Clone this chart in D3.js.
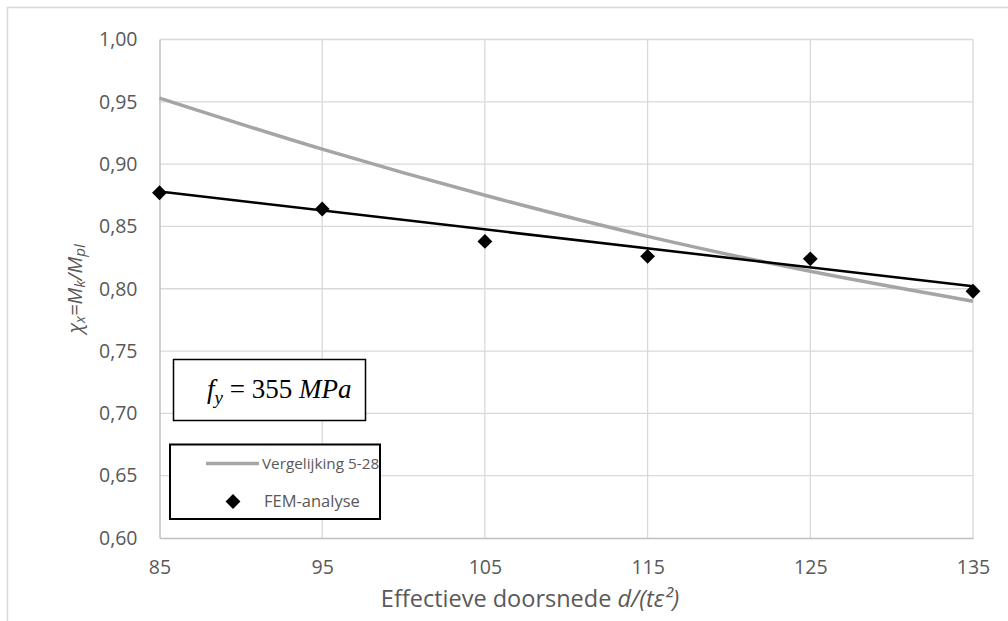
<!DOCTYPE html>
<html>
<head>
<meta charset="utf-8">
<script src="https://cdn.jsdelivr.net/npm/d3@7"></script>
<style>
  body { margin: 0; background: #fff; }
  svg { display: block; font-family: "Open Sans", sans-serif; }
</style>
</head>
<body>
<div id="chart"></div>
<script>
// x positions (effectieve doorsnede)
var xTicks = [85, 95, 105, 115, 125, 135];
var yTicks = [0.60, 0.65, 0.70, 0.75, 0.80, 0.85, 0.90, 0.95, 1.00];

// Vergelijking 5-28 (smooth grey curve)
var vergelijkingX = [85, 95, 105, 115, 125, 135];
var vergelijkingY = [0.953, 0.912, 0.875, 0.842, 0.814, 0.790];

// FEM-analyse points
var femX = [85, 95, 105, 115, 125, 135];
var femY = [0.877, 0.864, 0.838, 0.826, 0.824, 0.798];

// black trend line through the FEM points
var trendX = [85, 135];
var trendY = [0.878, 0.802];

var w = 1008;
var h = 621;

var svg = d3.select("#chart").append("svg").attr("width", w).attr("height", h);

// chart area border (runs off the picture on the right and bottom)
svg.append("rect")
    .attr("x", 7.5).attr("y", 7.5)
    .attr("width", 1100).attr("height", 700)
    .attr("fill", "none")
    .attr("stroke", "#d9d9d9")
    .attr("stroke-width", 1.5);

var xScale = d3.scaleLinear().domain([85, 135]).range([159.5, 973]);
var yScale = d3.scaleLinear().domain([0.60, 1.00]).range([538, 39.5]);

var fmt = function (d) { return d3.format(".2f")(d).replace(".", ","); };

// horizontal gridlines
svg.append("g").selectAll("line").data(yTicks.slice(1)).enter().append("line")
    .attr("x1", xScale(85)).attr("x2", xScale(135))
    .attr("y1", function (d) { return yScale(d); })
    .attr("y2", function (d) { return yScale(d); })
    .attr("stroke", "#d9d9d9").attr("stroke-width", 1.3);

// vertical gridlines
svg.append("g").selectAll("line").data(xTicks.slice(1)).enter().append("line")
    .attr("x1", function (d) { return xScale(d); })
    .attr("x2", function (d) { return xScale(d); })
    .attr("y1", yScale(0.60)).attr("y2", yScale(1.00))
    .attr("stroke", "#d9d9d9").attr("stroke-width", 1.3);

// axes
var xAxis = d3.axisBottom(xScale).tickValues(xTicks).tickSize(0).tickPadding(22).tickFormat(d3.format("d"));
var gx = svg.append("g").attr("transform", "translate(0," + yScale(0.60) + ")").call(xAxis);
gx.select(".domain").attr("stroke", "#bfbfbf").attr("stroke-width", 1.5);
gx.selectAll("text").attr("font-size", "19.5px").attr("fill", "#595959").attr("font-family", "Open Sans");

var yAxis = d3.axisLeft(yScale).tickValues(yTicks).tickSize(0).tickPadding(22).tickFormat(fmt);
var gy = svg.append("g").attr("transform", "translate(" + xScale(85) + ",0)").call(yAxis);
gy.select(".domain").attr("stroke", "#bfbfbf").attr("stroke-width", 1.5);
gy.selectAll("text").attr("font-size", "19.5px").attr("fill", "#595959").attr("font-family", "Open Sans");

// grey curve
var curveData = vergelijkingX.map(function (x, i) { return [x, vergelijkingY[i]]; });
svg.append("path")
    .datum(curveData)
    .attr("fill", "none")
    .attr("stroke", "#a5a5a5")
    .attr("stroke-width", 3.5)
    .attr("d", d3.line()
        .x(function (d) { return xScale(d[0]); })
        .y(function (d) { return yScale(d[1]); })
        .curve(d3.curveMonotoneX));

// black trend line
var trendData = trendX.map(function (x, i) { return [x, trendY[i]]; });
svg.append("path")
    .datum(trendData)
    .attr("fill", "none")
    .attr("stroke", "#000")
    .attr("stroke-width", 2.5)
    .attr("d", d3.line()
        .x(function (d) { return xScale(d[0]); })
        .y(function (d) { return yScale(d[1]); }));

// FEM diamonds
var diamond = d3.symbol().type(d3.symbolSquare).size(110);
svg.append("g").selectAll("path").data(femX).enter().append("path")
    .attr("d", diamond)
    .attr("transform", function (d, i) {
        return "translate(" + xScale(d) + "," + yScale(femY[i]) + ") rotate(45)";
    })
    .attr("fill", "#000");

// y axis title
var yTitle = svg.append("text")
    .attr("transform", "translate(82," + ((yScale(0.60) + yScale(1.00)) / 2) + ") rotate(-90)")
    .attr("text-anchor", "middle")
    .attr("font-size", "20px")
    .attr("font-style", "italic")
    .attr("fill", "#595959");
yTitle.append("tspan").text("χ");
yTitle.append("tspan").attr("font-size", "15px").attr("dy", 3).text("x");
yTitle.append("tspan").attr("dy", -3).text("=M");
yTitle.append("tspan").attr("font-size", "15px").attr("dy", 3).text("k");
yTitle.append("tspan").attr("dy", -3).text("/M");
yTitle.append("tspan").attr("font-size", "15px").attr("dy", 3).text("pl");

// x axis title
var xTitle = svg.append("text")
    .attr("x", 530).attr("y", 607)
    .attr("text-anchor", "middle")
    .attr("font-size", "23.5px")
    .attr("fill", "#595959");
xTitle.append("tspan").text("Effectieve doorsnede ");
xTitle.append("tspan").attr("font-style", "italic").text("d/(tε²)");

// f_y box
svg.append("rect")
    .attr("x", 173.5).attr("y", 359.5)
    .attr("width", 192).attr("height", 61)
    .attr("fill", "#fff").attr("stroke", "#000").attr("stroke-width", 1.5);
var fy = svg.append("text")
    .attr("x", 207).attr("y", 398)
    .attr("font-family", "'Liberation Serif', serif")
    .attr("font-size", "27px")
    .attr("fill", "#000");
fy.append("tspan").attr("font-style", "italic").text("f");
fy.append("tspan").attr("font-style", "italic").attr("font-size", "19px").attr("dy", 6).text("y");
fy.append("tspan").attr("dy", -6).text(" = 355 ");
fy.append("tspan").attr("font-style", "italic").text("MPa");

// legend
svg.append("rect")
    .attr("x", 170).attr("y", 444.5)
    .attr("width", 210).attr("height", 74.5)
    .attr("fill", "#fff").attr("stroke", "#000").attr("stroke-width", 2);
svg.append("line")
    .attr("x1", 206).attr("x2", 259).attr("y1", 463.5).attr("y2", 463.5)
    .attr("stroke", "#a5a5a5").attr("stroke-width", 3.5);
svg.append("text")
    .attr("x", 262).attr("y", 463.5).attr("dy", "0.35em")
    .attr("font-size", "15.3px").attr("fill", "#595959")
    .text("Vergelijking 5-28");
svg.append("path")
    .attr("d", diamond)
    .attr("transform", "translate(233,501.5) rotate(45)")
    .attr("fill", "#000");
svg.append("text")
    .attr("x", 264).attr("y", 501.5).attr("dy", "0.35em")
    .attr("font-size", "16.5px").attr("fill", "#595959")
    .text("FEM-analyse");
</script>
</body>
</html>
